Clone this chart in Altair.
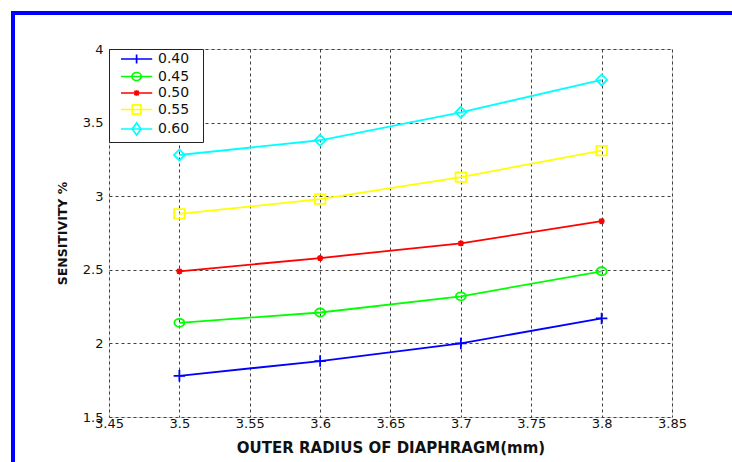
import altair as alt
import pandas as pd

radius = [3.5, 3.6, 3.7, 3.8]
series_names = ["0.40", "0.45", "0.50", "0.55", "0.60"]
s040 = [1.78, 1.88, 2.00, 2.17]
s045 = [2.14, 2.21, 2.32, 2.49]
s050 = [2.49, 2.58, 2.68, 2.83]
s055 = [2.88, 2.98, 3.13, 3.31]
s060 = [3.28, 3.38, 3.57, 3.79]
x_ticks = [3.45, 3.5, 3.55, 3.6, 3.65, 3.7, 3.75, 3.8, 3.85]
y_ticks = [1.5, 2, 2.5, 3, 3.5, 4]

colors = ["#0000FF", "#00FF00", "#FF0000", "#FFFF00", "#00FFFF"]

# data markers (unit paths, scaled by sqrt(size)/2)
marker_paths = [
    "M-1.15,0H1.15M0,-1.15V1.15",
    "M1,0A1,0.8 0 1,1 -1,0A1,0.8 0 1,1 1,0Z",
    "M-0.6,0H0.6M0,-0.6V0.6M-0.45,-0.45L0.45,0.45M-0.45,0.45L0.45,-0.45",
    "M-1.05,-0.95H1.05V0.95H-1.05Z",
    "M0,-1.1L1.1,0L0,1.1L-1.1,0Z",
]
# legend symbols: line + marker, shifted right
DX = 4.4
def sh(v):
    return f"{v + DX:.2f}"
legend_paths = [
    f"M{sh(-3.9)},0H{sh(3.9)}M{sh(0)},-1.15V1.15",
    f"M{sh(-3.9)},0H{sh(3.9)}M{sh(1.15)},0A1.15,1 0 1,1 {sh(-1.15)},0A1.15,1 0 1,1 {sh(1.15)},0Z",
    f"M{sh(-3.9)},0H{sh(3.9)}M{sh(0)},-0.7V0.7M{sh(-0.55)},-0.55L{sh(0.55)},0.55M{sh(-0.55)},0.55L{sh(0.55)},-0.55",
    f"M{sh(-3.9)},0H{sh(3.9)}M{sh(-1.05)},-1.15H{sh(1.05)}V1.15H{sh(-1.05)}Z",
    f"M{sh(-3.9)},0H{sh(3.9)}M{sh(0)},-1.5L{sh(1.1)},0L{sh(0)},1.5L{sh(-1.1)},0Z",
]

rows = []
for name, vals in zip(series_names, [s040, s045, s050, s055, s060]):
    for r, v in zip(radius, vals):
        rows.append({"radius": r, "sens": v, "series": name})
df = pd.DataFrame(rows)

FONT = "DejaVu Sans"
BLANK = "\u2800"  # blank glyph that is not trimmed, widens the legend box

xenc = alt.X("radius:Q", scale=alt.Scale(domain=[3.45, 3.85], nice=False, zero=False),
             axis=alt.Axis(values=x_ticks, format="~g", title="OUTER RADIUS OF DIAPHRAGM(mm)",
                           grid=True, gridDash=[3, 3], gridColor="#404040", gridWidth=1,
                           domain=False, ticks=False, labelFlush=False, labelOverlap=False,
                           labelPadding=0, labelFontSize=13, labelColor="#111", labelFont=FONT,
                           titleFontSize=15, titleFontWeight="bold", titleColor="#111", titleFont=FONT,
                           titleX=281.5, titleY=30, titleBaseline="middle"))
yenc = alt.Y("sens:Q", scale=alt.Scale(domain=[1.5, 4], nice=False, zero=False),
             axis=alt.Axis(values=y_ticks, format="~g", title="SENSITIVITY %",
                           grid=True, gridDash=[3, 3], gridColor="#404040", gridWidth=1,
                           domain=False, ticks=False, labelFlush=False, labelOverlap=False,
                           labelPadding=6, labelFontSize=13, labelColor="#111", labelFont=FONT,
                           titleFontSize=12.5, titleFontWeight="bold", titleColor="#111", titleFont=FONT,
                           titleX=-47, titleY=184, titleAngle=270, titleAlign="center",
                           titleBaseline="middle"))

color_nolegend = alt.Color("series:N", scale=alt.Scale(domain=series_names, range=colors), legend=None)

lines = alt.Chart(df).mark_line(strokeWidth=1.8).encode(x=xenc, y=yenc, color=color_nolegend)

points = alt.Chart(df).mark_point(filled=False, strokeWidth=1.8, size=100, opacity=1).encode(
    x="radius:Q", y="sens:Q", color=color_nolegend,
    shape=alt.Shape("series:N", scale=alt.Scale(domain=series_names, range=marker_paths), legend=None),
)

legend_layer = alt.Chart(df).transform_filter("false").mark_point(filled=False, strokeWidth=1.7).encode(
    x="radius:Q", y="sens:Q",
    color=alt.Color("series:N", scale=alt.Scale(domain=series_names, range=colors),
                    legend=alt.Legend(title=None, orient="top-left", offset=0, padding=3,
                                      strokeColor="#222", fillColor="white",
                                      labelFontSize=14, labelFont=FONT, labelColor="#111",
                                      labelExpr=f"datum.label + '{BLANK}'",
                                      labelOffset=32, rowPadding=1.5, symbolStrokeWidth=1.7,
                                      symbolSize=64, symbolOpacity=1)),
    shape=alt.Shape("series:N", scale=alt.Scale(domain=series_names, range=legend_paths)),
)

frame_left = alt.Chart(df).mark_rule(color="#0000FF", strokeWidth=4, clip=False).encode(
    x=alt.value(-96), y=alt.value(-38), y2=alt.value(430))
frame_top = alt.Chart(df).mark_rule(color="#0000FF", strokeWidth=4, clip=False).encode(
    x=alt.value(-98), x2=alt.value(640), y=alt.value(-36))

chart = alt.layer(frame_left, frame_top, lines, points, legend_layer).resolve_scale(
    shape="independent").resolve_legend(color="independent", shape="independent").properties(
    width=563, height=368,
    autosize=alt.AutoSizeParams(type="none"),
    padding={"left": 109, "top": 49, "right": 60, "bottom": 45},
).configure_view(stroke="#333", strokeWidth=1.5).configure(font=FONT)

chart.save("out.html", embed_options={"renderer": "svg", "actions": False})
